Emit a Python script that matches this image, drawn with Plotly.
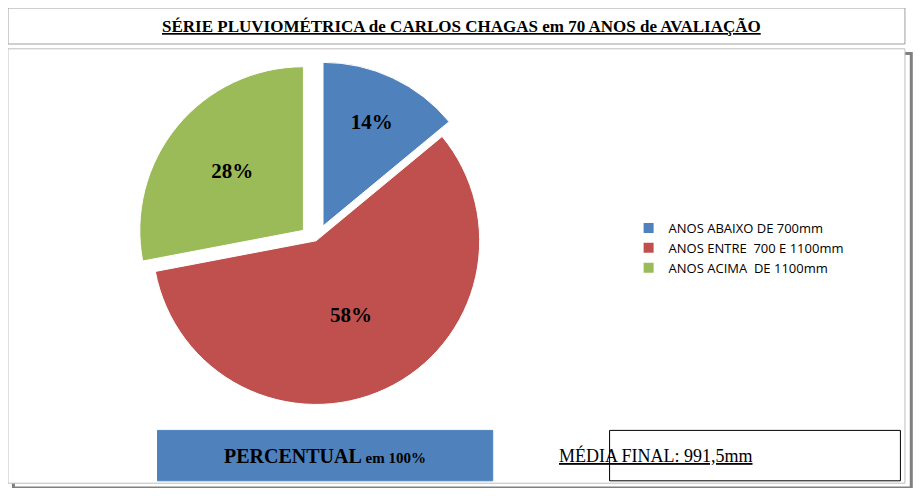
import plotly.graph_objects as go

categorias = ['ANOS ABAIXO DE 700mm', 'ANOS ENTRE  700 E 1100mm', 'ANOS ACIMA  DE 1100mm']
percentuais = [14, 58, 28]
cores = ['#4F81BD', '#C0504D', '#9BBB59']

fig = go.Figure()

fig.add_trace(go.Pie(labels=categorias, values=percentuais, sort=False,
                     direction='clockwise', rotation=0,
                     pull=[0.1, 0, 0.1],
                     marker=dict(colors=cores, line=dict(color='white', width=1)),
                     texttemplate='<b>%{value}%</b>', textposition='inside',
                     insidetextorientation='horizontal',
                     textfont=dict(family='Liberation Serif', size=21, color='black'),
                     domain=dict(x=[0.04, 0.64], y=[0.14, 0.89])))

# caixas do título, área do gráfico e rodapé
fig.add_shape(type='rect', xref='paper', yref='paper', x0=0.006, x1=0.997, y0=0.0, y1=0.905,
              line=dict(color='#808080', width=3), fillcolor='white', layer='below')
fig.add_shape(type='rect', xref='paper', yref='paper', x0=0.0, x1=0.99, y0=0.01, y1=0.915,
              line=dict(color='#BFBFBF', width=1), fillcolor='white', layer='below')
fig.add_shape(type='rect', xref='paper', yref='paper', x0=0.165, x1=0.535, y0=0.015, y1=0.12,
              line=dict(color='#4F81BD', width=1), fillcolor='#4F81BD', layer='below')
fig.add_shape(type='rect', xref='paper', yref='paper', x0=0.664, x1=0.985, y0=0.015, y1=0.12,
              line=dict(color='black', width=1), fillcolor='white', layer='below')
fig.add_shape(type='rect', xref='paper', yref='paper', x0=0.0, x1=0.99, y0=0.925, y1=1.0,
              line=dict(color='#A0A0A0', width=1), fillcolor='white', layer='below')

fig.add_annotation(text='<b><u>SÉRIE PLUVIOMÉTRICA de CARLOS CHAGAS em 70 ANOS de AVALIAÇÃO</u></b>',
                   xref='paper', yref='paper', x=0.5, y=0.962, yanchor='middle', showarrow=False,
                   font=dict(family='Liberation Serif', size=17, color='black'))
fig.add_annotation(text='<b>PERCENTUAL</b><b style="font-size:15px"> em 100%</b>',
                   xref='paper', yref='paper', x=0.35, y=0.067, yanchor='middle', showarrow=False,
                   font=dict(family='Liberation Serif', size=20, color='black'))
fig.add_annotation(text='<u>MÉDIA FINAL: 991,5mm</u>',
                   xref='paper', yref='paper', x=0.825, y=0.067, yanchor='middle', showarrow=False,
                   font=dict(family='Liberation Serif', size=18, color='black'))

fig.update_layout(width=906, height=480, margin=dict(l=0, r=0, t=0, b=0),
                  paper_bgcolor='white',
                  legend=dict(x=0.685, y=0.5, yanchor='middle', xanchor='left',
                              font=dict(family='Open Sans', size=13, color='black'),
                              tracegroupgap=8, itemsizing='constant'))

fig.write_html('out.html')
